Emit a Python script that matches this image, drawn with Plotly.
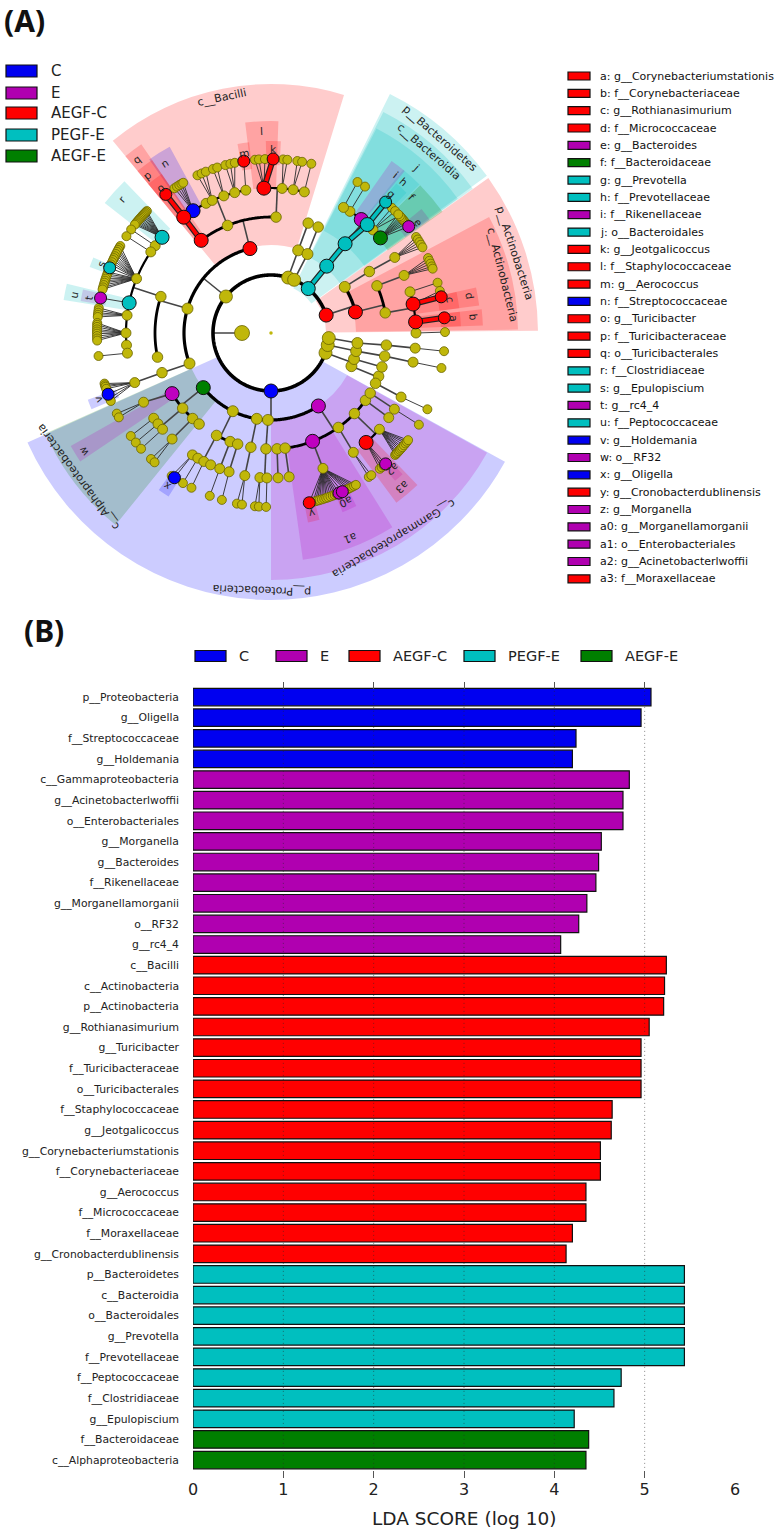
import math
import numpy as np
import plotly.graph_objects as go

W, H = 779, 1534
# ---------- data: bars ----------
bar_labels = ["p__Proteobacteria","g__Oligella","f__Streptococcaceae","g__Holdemania",
 "c__Gammaproteobacteria","g__Acinetobacterlwoffii","o__Enterobacteriales","g__Morganella","g__Bacteroides",
 "f__Rikenellaceae","g__Morganellamorganii","o__RF32","g__rc4_4",
 "c__Bacilli","c__Actinobacteria","p__Actinobacteria","g__Rothianasimurium","g__Turicibacter",
 "f__Turicibacteraceae","o__Turicibacterales","f__Staphylococcaceae","g__Jeotgalicoccus",
 "g__Corynebacteriumstationis","f__Corynebacteriaceae","g__Aerococcus","f__Micrococcaceae","f__Moraxellaceae",
 "g__Cronobacterdublinensis",
 "p__Bacteroidetes","c__Bacteroidia","o__Bacteroidales","g__Prevotella","f__Prevotellaceae","f__Peptococcaceae",
 "f__Clostridiaceae","g__Epulopiscium","f__Bacteroidaceae","c__Alphaproteobacteria"]
bar_values = [5.07,4.96,4.24,4.20,
 4.83,4.76,4.76,4.52,4.49,4.46,4.36,4.27,4.07,
 5.24,5.22,5.21,5.05,4.96,4.96,4.96,4.64,4.63,4.51,4.51,4.35,4.35,4.20,4.13,
 5.44,5.44,5.44,5.44,5.44,4.74,4.66,4.22,4.38,4.35]
bar_groups = ["C"]*4 + ["E"]*9 + ["AEGF-C"]*15 + ["PEGF-E"]*8 + ["AEGF-E"]*2
x_ticks = [0,1,2,3,4,5,6]
grid_ticks = [1,2,3,4,5]

group_names = ["C","E","AEGF-C","PEGF-E","AEGF-E"]
group_colors = {"C":"#0000F0","E":"#B000B0","AEGF-C":"#FF0000","PEGF-E":"#00BFBF","AEGF-E":"#007F00"}
group_rgb = {"C":(0,0,255),"E":(191,0,191),"AEGF-C":(255,0,0),"PEGF-E":(0,191,191),"AEGF-E":(0,128,0)}
OLIVE = "#C0B70A"
R, M, RD, T, G = "C", "E", "AEGF-C", "PEGF-E", "AEGF-E"
O = None

# ---------- data: cladogram key ----------
key_labels = ["a: g__Corynebacteriumstationis","b: f__Corynebacteriaceae","c: g__Rothianasimurium","d: f__Micrococcaceae",
 "e: g__Bacteroides","f: f__Bacteroidaceae","g: g__Prevotella","h: f__Prevotellaceae","i: f__Rikenellaceae",
 "j: o__Bacteroidales","k: g__Jeotgalicoccus","l: f__Staphylococcaceae","m: g__Aerococcus","n: f__Streptococcaceae",
 "o: g__Turicibacter","p: f__Turicibacteraceae","q: o__Turicibacterales","r: f__Clostridiaceae","s: g__Epulopiscium",
 "t: g__rc4_4","u: f__Peptococcaceae","v: g__Holdemania","w: o__RF32","x: g__Oligella","y: g__Cronobacterdublinensis",
 "z: g__Morganella","a0: g__Morganellamorganii","a1: o__Enterobacteriales","a2: g__Acinetobacterlwoffii","a3: f__Moraxellaceae"]
key_groups = [RD,RD,RD,RD,M,G,T,T,M,T,RD,RD,RD,R,RD,RD,RD,T,T,M,T,R,M,R,RD,M,M,M,M,RD]

# ---------- data: cladogram nodes (path, angle in degrees, enriched group) ----------
center_node = [("K",180,O)]
actinobacteria_nodes = [("K.A",18,RD),("K.A.c",14,RD),("K.A.x",32,O),("K.A.x.1",32,O),("K.A.x.1.1",31.4,O),
 ("K.A.c.1",24,O),("K.A.c.1.1",23.4,O),("K.A.c.2",10,O),("K.A.c.2.m",16.5,O),("K.A.c.2.m.1",16.8,O),
 ("K.A.c.2.d",11.5,RD),("K.A.c.2.d.e",14,O),("K.A.c.2.d.c",12,RD),("K.A.c.2.b",4.4,RD),("K.A.c.2.b.a",5,RD),
 ("K.A.c.2.z",0,O),("K.A.c.2.z.1",0.3,O)]
bacteroidetes_nodes = [("K.B",50,T),("K.B.c",50.2,T),("K.B.c.o",50.3,T),("K.B.c.o.h",48.4,T),("K.B.c.o.h.g",48.8,T),
 ("K.B.c.o.i",51.5,M),("K.B.c.o.u",57,O),("K.B.c.o.u.1",57.3,O),("K.B.c.o.v",60,O),("K.B.c.o.v.1",60.2,O),
 ("K.B.c.o.w",45.3,O),("K.B.c.o.f",41,G),("K.B.c.o.f.e",37.7,M)]
small_top_nodes = [("K.U",72.8,O),("K.U.a",71.8,O),("K.U.a.1",71.3,O),("K.V",66.5,O),("K.V.a",65.2,O),("K.V.a.1",66,O)]
firmicutes_nodes = [("K.F",141,O),("K.F.b",104,RD),("K.F.k",163.7,O),("K.F.e",200.5,O),
 ("K.F.b.t",127,RD),("K.F.b.t.f",127,RD),("K.F.b.t.f.g",127.2,RD),
 ("K.F.b.l",112,O),("K.F.b.l.n",122.5,R),("K.F.b.l.a",116.6,O),("K.F.b.l.b",113.9,O),("K.F.b.l.c",109,O),
 ("K.F.b.l.d",104.5,O),("K.F.b.l.m",100,O),("K.F.b.l.m.g",99,RD),
 ("K.F.b.s",87.5,O),("K.F.b.s.t",92.8,RD),("K.F.b.s.t.k",89.3,RD),("K.F.b.s.x",85.6,O),("K.F.b.s.y",81.2,O),("K.F.b.s.z",76.7,O),
 ("K.F.k.c",161.7,O),("K.F.k.d",192,O),("K.F.k.c.r",138.7,T),("K.F.k.c.a",143,O),("K.F.k.c.b",146,O),
 ("K.F.k.c.m",158,O),("K.F.k.c.m.s",158,T),("K.F.k.c.u",168,T),("K.F.k.c.u.t",168.4,M),("K.F.k.c.n",173,O),
 ("K.F.k.c.o",180,O),("K.F.k.c.p",184.8,O),("K.F.k.c.q",188,O),
 ("K.F.e.o",200,O),("K.F.e.o.f",200,O),("K.F.e.o.f.v",200.6,R)]
proteobacteria_nodes = [("K.P",270,R),("K.P.a",218.9,G),("K.P.b",244,O),("K.P.c",260.6,O),("K.P.d",268,O),("K.P.g",303,M),
 ("K.P.a.w",211.5,M),("K.P.a.w.f",208.5,O),("K.P.a.y",220.4,O),("K.P.a.y.1",216,O),("K.P.a.y.2",218.8,O),("K.P.a.y.3",221.6,O),
 ("K.P.a.z",227.5,O),("K.P.a.z.1",227,O),("K.P.a.v",231.7,O),
 ("K.P.b.1",242,O),("K.P.b.1.a",237.2,O),("K.P.b.1.a.x",236.3,R),("K.P.b.1.b",239.7,O),("K.P.b.1.c",242.4,O),("K.P.b.1.d",245.4,O),
 ("K.P.b.2",249.4,O),("K.P.b.2.a",249.3,O),("K.P.b.3",253.3,O),("K.P.b.3.a",253.2,O),
 ("K.P.c.1",260,O),("K.P.c.1.a",259.6,O),("K.P.d.1",267.5,O),("K.P.d.1.a",265.6,O),("K.P.d.1.b",268.4,O),
 ("K.P.g.1",273,O),("K.P.g.1.a",272.8,O),("K.P.g.2",277,O),("K.P.g.2.a",277.2,O),
 ("K.P.g.e",291,M),("K.P.g.e.f",291,O),("K.P.g.e.f.y",282.7,RD),("K.P.g.e.f.z",293,M),("K.P.g.e.f.a0",294.2,M),
 ("K.P.g.h",305.5,O),("K.P.g.h.a",304.6,O),
 ("K.P.g.i",316,O),("K.P.g.i.m",311,RD),("K.P.g.i.m.a2",311.2,M),("K.P.g.i.n",318.4,O),
 ("K.P.g.j",324.5,O),("K.P.g.j.a",324.3,O),("K.P.g.k",328.8,O),("K.P.g.k.a",328.3,O)]
minor_phyla_nodes = [("K.X",340,O),("K.X.a",337.6,O),("K.X.a.1",338.1,O),("K.X.a.2",334.3,O),("K.X.a.2.f",333.8,O),
 ("K.X.b",342.6,O),("K.X.b.1",343,O),
 ("K.Y",348,O),("K.Y.a",348,O),("K.Y.a.1",348.5,O),("K.Y.a.1.f",348.4,O),
 ("K.Z",355,O),("K.Z.a",353.4,O),("K.Z.a.1",354,O),("K.Z.a.1.f",354,O)]

# unmarked leaf angles, by the parent they hang from
leaf_fans = {
 "K.A.x.1.1":[33.5,32.5,31.5,30.5,29.5],"K.A.c.1.1":[25.5,24.5,23.5,22.5,21.7],
 "K.B.c.o.w":[46,44.5,42.4],"K.B.c.o.f":[39,39.7,40.4,41,41.6,42.2,43],
 "K.F.b.l.n":[123.7,122.7,121.8,121,120.3],"K.F.b.l.b":[115,113.5,112],"K.F.b.l.c":[109.5,108],"K.F.b.l.d":[105.2,103.5,102],
 "K.F.b.s.t":[95.3,94,92],"K.F.b.s.x":[86,84.6],"K.F.b.s.y":[81.3,79.7],"K.F.b.s.z":[76.6],
 "K.F.k.c.r":[135.5,136,136.5,137,137.5,138,138.5,139,139.5,140,140.5,141,141.5],"K.F.k.c.a":[143.5],"K.F.k.c.b":[146.2],
 "K.F.k.c.m":[150,150.8,151.5,152.2,153,153.8,154.5,155.2,156,156.8,159.5,160.2,161,161.8,162.5,163.2,164,164.8,165.5],
 "K.F.k.c.n":[171.7,172.5,173.3,174,174.7],
 "K.F.k.c.o":[176.7,177.3,178,178.8,179.5,180.2,181,181.8,182.5],"K.F.k.c.q":[187.6],
 "K.F.e.o.f":[196.9,197.5,198,198.7,202,203],
 "K.P.a.w.f":[207.6,209],"K.P.a.y.1":[216.3],"K.P.a.y.2":[219],"K.P.a.y.3":[221.7],"K.P.a.z.1":[226.4,228],
 "K.P.b.1.a":[235.2],"K.P.b.1.b":[239.6],"K.P.b.1.c":[242.8],"K.P.b.2.a":[249.4],"K.P.b.3.a":[253.6],
 "K.P.c.1.a":[258.7,260.4],"K.P.d.1.a":[264.7,266],"K.P.d.1.b":[268.4],
 "K.P.g.e.f":[284,284.8,285.5,286.2,287,287.8,288.5,289.2,290,290.8,291.5,292.2,295.5,296.3,297,297.8,298.5,299.2],
 "K.P.g.h.a":[304.2,305.2],
 "K.P.g.i.m":[308.7,309.5,310.3],"K.P.g.i.n":[315.5,316,316.5,317.2,317.8,318.4,319,319.8,320.6,321.3,322],"K.P.g.k.a":[328.2],
 "K.X.a.2.f":[334],"K.Y.a.1.f":[348.4],"K.Z.a.1.f":[354]}
thick_edges = ["K.B.c","K.B.c.o","K.B.c.o.h","K.B.c.o.h.g","K.F.b.t.f","K.F.b.t.f.g","K.F.b.s.t.k",
               "K.A.c.2.d.c","K.A.c.2.b.a"]

# ---------- data: shaded clades (label, inner r, outer r, angle centre, angle width, group) ----------
sector_group = [RD,RD,T,T,T,RD,R,G]
sector_inner = [55,85,50,85,115,88,58,87]
sector_outer = [267,247,267,248,230,249,267,247]
sector_theta = [18,14.4,49.8,49.3,49.2,101.2,267.7,217.5]
sector_width = [35,27.2,27.5,27.5,27,56.5,127,27]
sector_label = ["p__Actinobacteria","c__Actinobacteria","p__Bacteroidetes","c__Bacteroidia",None,"c__Bacilli","p__Proteobacteria","c__Alphaproteobacteria"]
sector_label_r = [256,239,258,240,None,241,257,241]
sector_label_theta = [18,14,49,49,None,101.7,268,216.7]

gamma_group, gamma_inner, gamma_outer, gamma_theta, gamma_width = M, 87, 247, 300.5, 61
gamma_label, gamma_label_r, gamma_label_theta = "c__Gammaproteobacteria", 239, 301

tag_text =  ["a","b","c","d","e","f","g","h","i","j","k","l","m","n","o","p","q","r","s","t","u","v","w","x","y","a0","a1","a2","a3"]
tag_group = [RD,RD,RD,RD,M,G,T,T,M,T,RD,RD,RD,R,RD,RD,RD,T,T,M,T,R,M,R,RD,M,M,M,RD]
tag_inner = [170,145,170,145,165,143,170,145,145,0,168,145,165,145,170,145,116,145,168,168,145,165,116,168,168,168,116,170,145]
tag_outer = [190,212,190,210,195,210,195,210,210,0,192,212,192,212,193,210,229,211,193,193,210,195,230,193,193,193,229,193,211]
tag_theta = [4.2,4.2,10,10,37.5,40,48,48,52.7,0,89.3,92.5,98.3,121.8,127,127,127,138,158.5,168.7,168.7,201.5,211.7,236.2,282.8,294,290,311.5,310.2]
tag_width = [4.4,4.4,5,5,4,9.5,4,6,4.5,0,4.5,9,3.5,6.5,5,5,5,8,3,3.5,4.5,3,4.5,3.5,3.5,4.5,24,3,7.5]
tag_label_r = [184,203,183,202,184,196,184,201,201,221,184,202,182,201,183,200,220,201,183,186,201,185,222,185,185,185,220,183,203]
tag_label_theta = [4.5,4.5,10.5,10.5,37,44,49,48.6,51.6,48.8,89.3,92.6,98.5,122,127.4,128,127.6,138,158,169,169,201,212.3,236,283,294,291,311.7,310.4]

# ---------- geometry ----------
CX, CY, RMAX = 271, 333, 268
LEVEL_STEP = 29
def px(x): return x / W
def py(y): return 1 - y / H
def polar_paper(r, th):
    a = math.radians(th)
    return px(CX + r * math.cos(a)), py(CY - r * math.sin(a))
def rgba(g, a=0.2):
    c = group_rgb[g]
    return f"rgba({c[0]},{c[1]},{c[2]},{a})"

nodes = {}
for table in (center_node, actinobacteria_nodes, bacteroidetes_nodes, small_top_nodes, firmicutes_nodes,
              proteobacteria_nodes, minor_phyla_nodes):
    for p, th, g in table:
        nodes[p] = (th, g)
for parent, angles in leaf_fans.items():
    for i, th in enumerate(angles):
        nodes[f"{parent}.l{i}"] = (th, None)
def level(p): return p.count(".") + 1
def rad(p): return level(p) * LEVEL_STEP
children = {}
for p in nodes:
    if "." in p:
        children.setdefault(p.rsplit(".", 1)[0], []).append(p)

fig = go.Figure()

# shaded clades
sec_r = sector_outer + [gamma_outer]
sec_i = sector_inner + [gamma_inner]
sec_t = sector_theta + [gamma_theta]
sec_w = sector_width + [gamma_width]
sec_g = sector_group + [gamma_group]
tag_keep = [i for i in range(len(tag_text)) if tag_outer[i] > 0]
for i in tag_keep:
    sec_r.append(tag_outer[i]); sec_i.append(tag_inner[i]); sec_t.append(tag_theta[i]); sec_w.append(tag_width[i]); sec_g.append(tag_group[i])
fig.add_trace(go.Barpolar(r=[a - b for a, b in zip(sec_r, sec_i)], base=sec_i, theta=sec_t, width=sec_w,
    marker=dict(color=[rgba(g) for g in sec_g], line=dict(width=0)), hoverinfo="skip", showlegend=False, subplot="polar"))

# edges
def add_seg(store, w, rs, ts):
    s = store.setdefault(w, ([], []))
    s[0].extend(list(rs) + [None]); s[1].extend(list(ts) + [None])
thin, arcs = {}, {}
arc_w = {2: 3.6, 3: 3.2, 4: 2.8, 5: 2.2}
thick = []
for par, kids in children.items():
    tp = nodes[par][0]; rp = rad(par)
    lv = level(kids[0])
    if lv == 6 or len(kids) == 1:
        for k in kids:
            if k in thick_edges:
                thick.append((par, k))
            else:
                add_seg(thin, 0.9 if lv == 6 else 1.6, [rp, rad(k)], [tp, nodes[k][0]])
    else:
        ts = [nodes[k][0] for k in kids]
        a0, a1 = min(ts + [tp]), max(ts + [tp])
        ang = np.arange(a0, a1 + 0.5, 0.5)
        add_seg(arcs, arc_w[lv], [lv * LEVEL_STEP] * len(ang), ang)
        add_seg(thin, 1.6, [rp, lv * LEVEL_STEP], [tp, tp])
        for k in kids:
            if k in thick_edges:
                thick.append((par, k))
for w, (rs, ts) in list(thin.items()):
    fig.add_trace(go.Scatterpolar(r=rs, theta=ts, mode="lines", line=dict(color="#2b2b2b" if w < 1 else "#444444", width=w),
                                  hoverinfo="skip", showlegend=False, subplot="polar"))
for w, (rs, ts) in arcs.items():
    fig.add_trace(go.Scatterpolar(r=rs, theta=ts, mode="lines", line=dict(color="black", width=w),
                                  hoverinfo="skip", showlegend=False, subplot="polar"))
for par, k in thick:
    rs, ts = [rad(par), rad(k)], [nodes[par][0], nodes[k][0]]
    fig.add_trace(go.Scatterpolar(r=rs, theta=ts, mode="lines", line=dict(color="#222222", width=6),
                                  hoverinfo="skip", showlegend=False, subplot="polar"))
    fig.add_trace(go.Scatterpolar(r=rs, theta=ts, mode="lines", line=dict(color=group_colors[nodes[k][1]], width=3.6),
                                  hoverinfo="skip", showlegend=False, subplot="polar"))

# nodes
olive_size = {1: 15, 2: 13, 3: 11, 4: 10.5, 5: 10, 6: 9}
paths = sorted(nodes, key=lambda p: -level(p))
plain = [p for p in paths if nodes[p][1] is None]
fig.add_trace(go.Scatterpolar(r=[rad(p) for p in plain], theta=[nodes[p][0] for p in plain], mode="markers",
    marker=dict(color=OLIVE, opacity=1, size=[olive_size[level(p)] for p in plain], line=dict(color="#6b6500", width=0.8)),
    hoverinfo="skip", showlegend=False, subplot="polar"))
fig.add_trace(go.Scatterpolar(r=[0], theta=[0], mode="markers", marker=dict(color=OLIVE, opacity=1, size=3.5),
    hoverinfo="skip", showlegend=False, subplot="polar"))
for g in group_names:
    sel = [p for p in paths if nodes[p][1] == g]
    fig.add_trace(go.Scatterpolar(r=[rad(p) for p in sel], theta=[nodes[p][0] for p in sel], mode="markers",
        marker=dict(color={"C":"#0000FF","E":"#BF00BF","AEGF-C":"#FF0000","PEGF-E":"#00BFBF","AEGF-E":"#008000"}[g], opacity=1,
                    size=[12 if level(p) == 6 else 14 for p in sel], line=dict(color="#111111", width=1)),
        hoverinfo="skip", showlegend=False, subplot="polar"))

# bars
ypos = list(range(len(bar_labels)))
fig.add_trace(go.Bar(x=bar_values, y=ypos, orientation="h", width=0.85,
    marker=dict(color=[group_colors[g] for g in bar_groups], line=dict(color="#111111", width=1.2)),
    hoverinfo="skip", showlegend=False, xaxis="x", yaxis="y"))
gx, gy = [], []
for t in grid_ticks:
    gx += [t, t, None]; gy += [-0.3, 37.5, None]
fig.add_trace(go.Scatter(x=gx, y=gy, mode="lines", line=dict(color="rgba(40,40,40,0.55)", width=1, dash="1px,3px"),
    hoverinfo="skip", showlegend=False, xaxis="x", yaxis="y"))

annotations, shapes = [], []
def text(x, y, s, size, anchor="left", color="#222222", angle=0, bold=False, family="DejaVu Sans"):
    annotations.append(dict(x=x, y=y, xref="paper", yref="paper", text=f"<b>{s}</b>" if bold else s, showarrow=False,
        xanchor=anchor, yanchor="middle", textangle=angle, font=dict(size=size, color=color, family=family)))
def swatch(x0, x1, yc, h, color):
    shapes.append(dict(type="rect", xref="paper", yref="paper", x0=px(x0), x1=px(x1), y0=py(yc - h / 2), y1=py(yc + h / 2),
                       fillcolor=color, line=dict(color="#111111", width=1.2)))

text(px(2), py(20), "(A)", 30, bold=True, color="#111111", family="Noto Sans")
text(px(22), py(630), "(B)", 30, bold=True, color="#111111", family="Noto Sans")
text(px(464), py(1518), "LDA SCORE (log 10)", 18.5, anchor="center")

# left legend
for g, yc in zip(group_names, [71, 93, 113, 135, 156]):
    swatch(6, 37, yc, 12, group_colors[g])
    text(px(49), py(yc), g, 15)
# bar legend
for g, x0 in zip(group_names, [195, 276, 349, 464, 581]):
    swatch(x0, x0 + 31, 656, 11, group_colors[g])
    text(px(x0 + 42), py(656), g, 14.5)
# key
for i, (lab, g) in enumerate(zip(key_labels, key_groups)):
    yc = 76 + i * 17.34
    swatch(568, 590, yc, 8, group_colors[g])
    text(px(598), py(yc), lab, 11, color="#111111")
# rotated clade labels
for s, r, th in zip(sector_label, sector_label_r, sector_label_theta):
    if s:
        x, y = polar_paper(r, th)
        text(x, y, s, 11, anchor="center", angle=90 - th)
x, y = polar_paper(gamma_label_r, gamma_label_theta)
text(x, y, gamma_label, 11, anchor="center", angle=90 - gamma_label_theta)
for s, r, th in zip(tag_text, tag_label_r, tag_label_theta):
    x, y = polar_paper(r, th)
    text(x, y, s, 10.5, anchor="center", angle=90 - th)

fig.update_layout(
    width=W, height=H, margin=dict(l=0, r=0, t=0, b=0), paper_bgcolor="white", plot_bgcolor="rgba(0,0,0,0)",
    showlegend=False, annotations=annotations, shapes=shapes,
    polar=dict(domain=dict(x=[px(CX - RMAX), px(CX + RMAX)], y=[py(CY + RMAX), py(CY - RMAX)]), bgcolor="rgba(0,0,0,0)",
               barmode="overlay",
               radialaxis=dict(visible=False, range=[0, RMAX]),
               angularaxis=dict(visible=False, rotation=0, direction="counterclockwise")),
    xaxis=dict(domain=[px(193), px(735)], range=[0, 6], tickvals=x_ticks, ticks="inside", ticklen=7, tickwidth=1,
               tickcolor="#555555", mirror="ticks", showgrid=False, zeroline=False, showline=False, anchor="y", automargin=False,
               tickfont=dict(size=16, family="DejaVu Sans", color="#222222")),
    yaxis=dict(domain=[py(1478), py(682)], range=[37.87, -0.73], tickvals=ypos, ticktext=bar_labels, ticks="",
               showgrid=False, zeroline=False, showline=False, anchor="x", ticklabelstandoff=13, automargin=False,
               tickfont=dict(size=10.8, family="DejaVu Sans", color="#222222")),
    bargap=0.15)
fig.write_html("out.html", config={"displayModeBar": False},
               post_script="document.documentElement.style.overflow='hidden';document.body.style.margin='0';document.body.style.padding='0';")
